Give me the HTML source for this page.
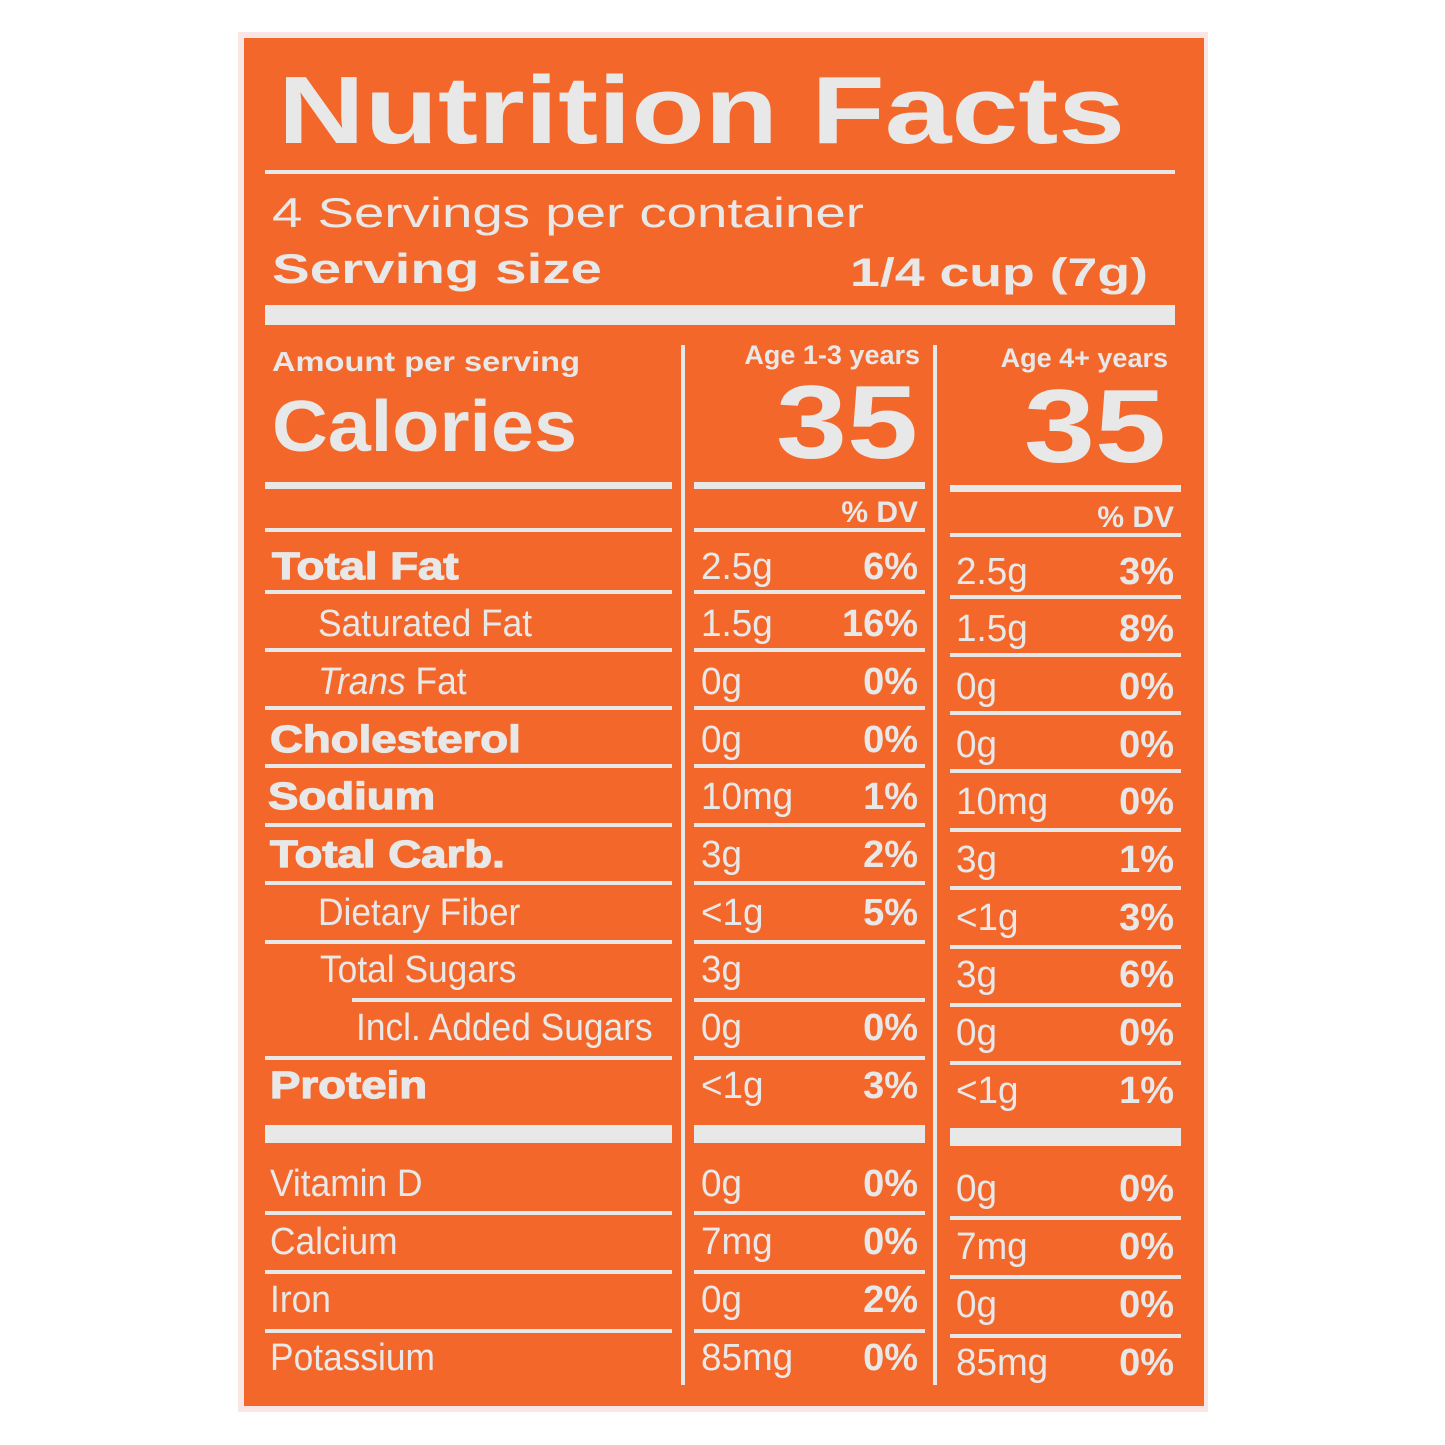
<!DOCTYPE html>
<html><head><meta charset="utf-8"><style>
html,body{margin:0;padding:0;background:#fff;}
svg{display:block;}
text{fill:#e8e8e8;font-family:"Liberation Sans",sans-serif;}
.n{font-size:38px;}
.b{font-weight:bold;}
.h{stroke:#e8e8e8;stroke-width:1.2px;}
</style></head><body>
<svg width="1445" height="1445" viewBox="0 0 1445 1445">
<rect x="238" y="32" width="970" height="1380" fill="#fbe6e6"/>
<rect x="244" y="38" width="960" height="1368" fill="#f4672a"/>
<g fill="#e8e8e8">
<rect x="265" y="170" width="910" height="4"/>
<rect x="265" y="305" width="910" height="20"/>
<rect x="681" y="345" width="4" height="1040"/>
<rect x="933" y="345" width="4" height="1040"/>
<rect x="265" y="482" width="407" height="7"/>
<rect x="694" y="482" width="231" height="7"/>
<rect x="950" y="485" width="231" height="7"/>
<rect x="265" y="1125" width="407" height="18"/>
<rect x="694" y="1125" width="231" height="18"/>
<rect x="950" y="1128" width="231" height="18"/>
</g>
<text x="278" y="143" class="b" font-size="96" textLength="847" lengthAdjust="spacingAndGlyphs">Nutrition Facts</text>
<text x="272" y="227" font-size="42" textLength="592" lengthAdjust="spacingAndGlyphs">4 Servings per container</text>
<text x="272" y="283" class="b" font-size="42" textLength="330" lengthAdjust="spacingAndGlyphs">Serving size</text>
<text x="1148" y="286" class="b" font-size="40" text-anchor="end" textLength="298" lengthAdjust="spacingAndGlyphs">1/4 cup (7g)</text>
<text x="272" y="371" class="b" font-size="28" textLength="308" lengthAdjust="spacingAndGlyphs">Amount per serving</text>
<text x="272" y="451" class="b" font-size="72" textLength="305" lengthAdjust="spacingAndGlyphs">Calories</text>
<text x="920" y="364" class="b" font-size="27" text-anchor="end">Age 1-3 years</text>
<text x="1168" y="367" class="b" font-size="27" text-anchor="end">Age 4+ years</text>
<text x="918" y="458" class="b" font-size="104" text-anchor="end" textLength="142" lengthAdjust="spacingAndGlyphs">35</text>
<text x="1166" y="462" class="b" font-size="104" text-anchor="end" textLength="142" lengthAdjust="spacingAndGlyphs">35</text>
<text x="918" y="522" class="b" font-size="30" text-anchor="end">% DV</text>
<text x="1174" y="527" class="b" font-size="30" text-anchor="end">% DV</text>
<g id="rows"></g>
</svg>
<script>
var rows=[
["Total Fat",272,1,0,"2.5g","6%","2.5g","3%",565],
["Saturated Fat",318,0,0,"1.5g","16%","1.5g","8%",622],
["Trans Fat",318,0,1,"0g","0%","0g","0%",680],
["Cholesterol",270,1,0,"0g","0%","0g","0%",738],
["Sodium",268,1,0,"10mg","1%","10mg","0%",795],
["Total Carb.",270,1,0,"3g","2%","3g","1%",853],
["Dietary Fiber",318,0,0,"<1g","5%","<1g","3%",911],
["Total Sugars",320,0,0,"3g","","3g","6%",968],
["Incl. Added Sugars",356,0,0,"0g","0%","0g","0%",1026],
["Protein",270,1,0,"<1g","3%","<1g","1%",1084],
["Vitamin D",270,0,0,"0g","0%","0g","0%",1182],
["Calcium",270,0,0,"7mg","0%","7mg","0%",1240],
["Iron",270,0,0,"0g","2%","0g","0%",1298],
["Potassium",270,0,0,"85mg","0%","85mg","0%",1356]];
var lines=[[590,265],[648,265],[706,265],[764,265],[823,265],[881,265],[940,265],[998,352],[1056,265],[1211,265],[1270,265],[1329,265]];
var s='';
function esc(t){return t.replace(/</g,'&lt;');}
function T(x,y,cls,txt,anchor,sx){
 return '<text transform="translate('+x+','+y+') scale('+sx+',1)" class="'+cls+'"'+(anchor?' text-anchor="end"':'')+'>'+txt+'</text>';
}
rows.forEach(function(r){
 var y=r[8]+14;
 var lab=r[3]?'<tspan font-style="italic">Trans</tspan> Fat':esc(r[0]);
 s+=T(r[1],y,'n'+(r[2]?' b h':''),lab,0,r[2]?1.2:0.93);
 s+=T(701,y,'n',esc(r[4]),0,0.97);
 if(r[5])s+=T(918,y,'n b',r[5],1,1);
 s+=T(956,y+5,'n',esc(r[6]),0,0.97);
 s+=T(1174,y+5,'n b',r[7],1,1);
});
s+='<rect x="694" y="528" width="231" height="4" fill="#e8e8e8"/><rect x="950" y="533" width="231" height="4" fill="#e8e8e8"/><rect x="265" y="528" width="407" height="4" fill="#e8e8e8"/>';
lines.forEach(function(l){
 s+='<rect x="'+l[1]+'" y="'+l[0]+'" width="'+(672-l[1])+'" height="4" fill="#e8e8e8"/>';
 s+='<rect x="694" y="'+l[0]+'" width="231" height="4" fill="#e8e8e8"/>';
 s+='<rect x="950" y="'+(l[0]+5)+'" width="231" height="4" fill="#e8e8e8"/>';
});
document.getElementById('rows').innerHTML=s;
</script>
</body></html>
